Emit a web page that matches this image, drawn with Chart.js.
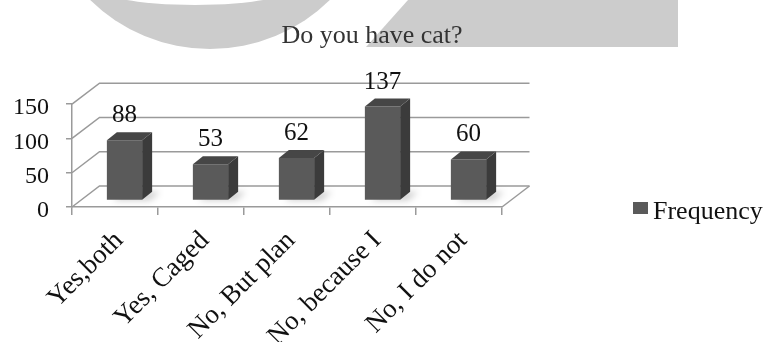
<!DOCTYPE html>
<html>
<head>
<meta charset="utf-8">
<script src="https://cdn.jsdelivr.net/npm/chart.js@4/dist/chart.umd.min.js"></script>
<style>
  html, body { margin: 0; padding: 0; background: #fff; }
</style>
</head>
<body>
<canvas id="chart" width="764" height="342"></canvas>
<script>
"use strict";

// データ
const chartTitle = 'Do you have cat?';
const seriesLabel = 'Frequency';
const categories = ['Yes,both', 'Yes, Caged', 'No, But plan', 'No, because I', 'No, I do not'];
const frequency = [88, 53, 62, 137, 60];
const yTicks = [0, 50, 100, 150];

const FONT = "'Liberation Serif', 'Times New Roman', serif";
const GRID = '#9a9a9a';
// 奥の壁までのずれ
const WALL = { dx: 27.5, dy: -21 };
// 棒の前面の位置 (奥行きの中ほど)
const PLANE = { dx: 9.5, dy: -6.5 };
// 棒の奥行き
const BAR = { dx: 10, dy: -8 };
const barColor = '#5a5a5a';
const sideColor = '#3b3b3b';
const topColor = '#464646';

/*
 * 3D風の描画
 */
const threeD = {
    id: 'threeD',
    beforeDraw(chart) {
        const ctx = chart.ctx;
        ctx.save();
        ctx.fillStyle = '#fff';
        ctx.fillRect(0, 0, chart.width, chart.height);
        // 背景の透かし
        ctx.fillStyle = '#cccccc';
        ctx.beginPath();
        ctx.arc(210, -122, 171, 0, Math.PI * 2);
        ctx.fill();
        ctx.fillStyle = '#fff';
        ctx.beginPath();
        ctx.ellipse(195, -15, 103, 20, 0, 0, Math.PI * 2);
        ctx.fill();
        ctx.fillStyle = '#cccccc';
        ctx.beginPath();
        ctx.moveTo(408, 0);
        ctx.lineTo(678, 0);
        ctx.lineTo(678, 47);
        ctx.lineTo(366, 47);
        ctx.closePath();
        ctx.fill();
        ctx.restore();
    },
    beforeDatasetsDraw(chart) {
        const { ctx, chartArea: a, scales: { y } } = chart;
        ctx.save();
        ctx.strokeStyle = GRID;
        ctx.lineWidth = 1.5;
        // 奥の壁の目盛線
        y.ticks.forEach(t => {
            const py = y.getPixelForValue(t.value);
            ctx.beginPath();
            ctx.moveTo(a.left, py);
            ctx.lineTo(a.left + WALL.dx, py + WALL.dy);
            ctx.lineTo(a.right + WALL.dx, py + WALL.dy);
            ctx.stroke();
        });
        // 床の右端
        const y0 = y.getPixelForValue(0);
        ctx.beginPath();
        ctx.moveTo(a.right, y0);
        ctx.lineTo(a.right + WALL.dx, y0 + WALL.dy);
        ctx.stroke();

        ctx.translate(PLANE.dx, PLANE.dy);
        // 床の影
        ctx.save();
        ctx.filter = 'blur(3px)';
        ctx.fillStyle = 'rgba(0,0,0,0.18)';
        chart.getDatasetMeta(0).data.forEach(bar => {
            const { x, base, width } = bar.getProps(['x', 'base', 'width'], true);
            const l = x - width / 2 + 6, r = x + width / 2 + 8;
            ctx.beginPath();
            ctx.moveTo(l, base + 1);
            ctx.lineTo(r, base + 1);
            ctx.lineTo(r + BAR.dx, base + BAR.dy);
            ctx.lineTo(l + BAR.dx, base + BAR.dy);
            ctx.closePath();
            ctx.fill();
        });
        ctx.restore();
    },
    afterDatasetsDraw(chart) {
        const ctx = chart.ctx;
        chart.getDatasetMeta(0).data.forEach((bar, i) => {
            const { x, y, base, width } = bar.getProps(['x', 'y', 'base', 'width'], true);
            const l = x - width / 2, r = x + width / 2;
            // 側面
            ctx.fillStyle = sideColor;
            ctx.beginPath();
            ctx.moveTo(r, y);
            ctx.lineTo(r + BAR.dx, y + BAR.dy);
            ctx.lineTo(r + BAR.dx, base + BAR.dy);
            ctx.lineTo(r, base);
            ctx.closePath();
            ctx.fill();
            // 上面
            ctx.fillStyle = topColor;
            ctx.beginPath();
            ctx.moveTo(l, y);
            ctx.lineTo(r, y);
            ctx.lineTo(r + BAR.dx, y + BAR.dy);
            ctx.lineTo(l + BAR.dx, y + BAR.dy);
            ctx.closePath();
            ctx.fill();
            // 値ラベル
            ctx.fillStyle = '#111';
            ctx.font = `25px ${FONT}`;
            ctx.textAlign = 'center';
            ctx.textBaseline = 'alphabetic';
            ctx.fillText(String(frequency[i]), x, y - 18);
        });
        ctx.restore();
    },
    afterDraw(chart) {
        // 凡例
        const ctx = chart.ctx;
        const ds = chart.data.datasets[0];
        ctx.save();
        ctx.fillStyle = ds.backgroundColor;
        ctx.fillRect(633, 202, 15, 12);
        ctx.fillStyle = '#111';
        ctx.font = `26px ${FONT}`;
        ctx.textAlign = 'left';
        ctx.textBaseline = 'middle';
        ctx.fillText(ds.label, 653, 212);
        ctx.restore();
    }
};

const ctx = document.getElementById('chart');
new Chart(ctx, {
    type: 'bar',
    data: {
        labels: categories,
        datasets: [
            {
                label: seriesLabel,
                data: frequency,
                backgroundColor: barColor,
                borderWidth: 0,
                barPercentage: 0.41,
                categoryPercentage: 1,
                clip: false
            }
        ]
    },
    options: {
        responsive: false,
        animation: false,
        layout: {
            padding: { left: 13, right: 33, top: 21, bottom: 0 }
        },
        plugins: {
            legend: { display: false },
            tooltip: { enabled: false },
            title: {
                display: true,
                text: chartTitle,
                color: '#333',
                font: { family: FONT, size: 26, weight: 'normal' },
                padding: { top: 0, bottom: 52 }
            }
        },
        scales: {
            x: {
                offset: true,
                grid: {
                    offset: true,
                    drawOnChartArea: false,
                    tickLength: 8,
                    color: GRID,
                    lineWidth: 1.5
                },
                border: { display: true, color: GRID, width: 1.5 },
                ticks: {
                    color: '#111',
                    font: { family: FONT, size: 27 },
                    minRotation: 45,
                    maxRotation: 45,
                    padding: 10,
                    labelOffset: 4
                },
                afterFit: scale => {
                    scale.height = 135;
                    scale.paddingLeft = 0;
                    // 凡例のための右の余白
                    scale.paddingRight = 262;
                }
            },
            y: {
                min: 0,
                max: 150,
                afterBuildTicks: scale => {
                    scale.ticks = yTicks.map(v => ({ value: v }));
                },
                afterFit: scale => { scale.width = 59; },
                grid: {
                    drawOnChartArea: false,
                    tickLength: 6,
                    color: GRID,
                    lineWidth: 1.5
                },
                border: { display: true, color: GRID, width: 1.5 },
                ticks: {
                    color: '#111',
                    font: { family: FONT, size: 24 },
                    padding: 17,
                    labelOffset: 4
                }
            }
        }
    },
    plugins: [threeD]
});
</script>
</body>
</html>
